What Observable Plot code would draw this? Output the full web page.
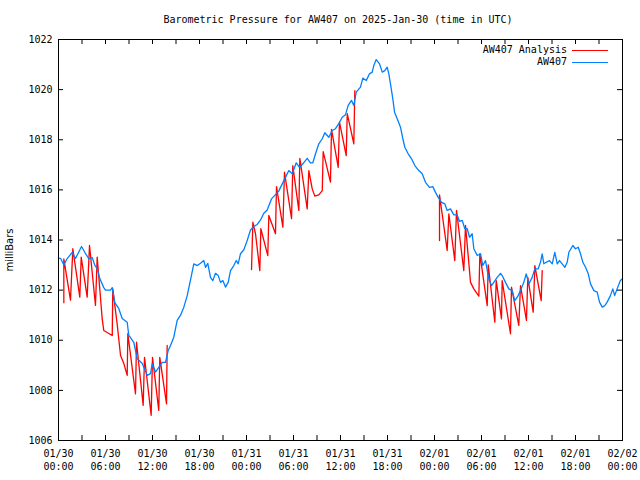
<!DOCTYPE html>
<html>
<head>
<meta charset="utf-8">
<script src="https://cdn.jsdelivr.net/npm/d3@7"></script>
<script src="https://cdn.jsdelivr.net/npm/@observablehq/plot@0.6"></script>
<style>
  html, body { margin: 0; padding: 0; background: #fff; }
  body { width: 640px; height: 480px; position: relative; overflow: hidden; font-family: "DejaVu Sans Mono", monospace; }
  #title { height: 30px; box-sizing: border-box; padding-top: 13px; padding-left: 36px; line-height: 14px; font-size: 10px; text-align: center; color: #000; white-space: nowrap; }
  #chart svg { display: block; }
  .lg-text { position: absolute; right: 73px; font-size: 10px; line-height: 12px; color: #000; white-space: nowrap; }
  .lg-line { position: absolute; left: 572px; width: 36px; height: 0; }
  #ylabel { position: absolute; left: -20px; top: 244px; width: 60px; line-height: 12px; text-align: center; font-family: "DejaVu Sans", sans-serif; font-size: 10px; color: #000; transform: rotate(-90deg); transform-origin: 30px 6px; white-space: nowrap; }
</style>
</head>
<body>
<div id="title">Barometric Pressure for AW407 on 2025-Jan-30 (time in UTC)</div>
<div id="chart"></div>
<div id="ylabel">milliBars</div>
<div class="lg-text" style="top:44px">AW407 Analysis</div>
<div class="lg-line" style="top:50px;border-top:1px solid #ff0000"></div>
<div class="lg-text" style="top:56px">AW407</div>
<div class="lg-line" style="top:62px;border-top:1px solid #0080ff"></div>
<script>
// Observed pressure (hours after 2025-01-30 00:00 UTC, millibars)
const blueHours = [
  0, 0.26, 0.68, 1.11, 1.75, 2.17, 2.94, 3.45, 3.87, 4.30,
  4.63, 4.94, 5.27, 5.78, 6.00, 6.64, 6.86, 7.19, 7.70, 8.13,
  8.77, 8.97, 9.61, 10.05, 10.69, 11.32, 11.75, 11.96, 12.38, 12.80,
  13.24, 13.66, 14.00, 14.30, 14.72, 15.15, 15.58, 16.00, 16.43, 16.98,
  17.27, 17.71, 18.13, 18.55, 18.77, 19.06, 19.40, 19.70, 20.04, 20.39,
  20.68, 20.98, 21.32, 21.66, 21.96, 22.38, 22.69, 22.94, 23.23, 23.66,
  24.09, 24.51, 24.93, 25.37, 25.79, 26.21, 26.64, 27.19, 27.61, 28.12,
  28.34, 28.98, 29.40, 29.84, 30.35, 30.77, 31.19, 31.75, 32.17, 32.47,
  32.81, 33.23, 33.67, 34.00, 34.51, 34.94, 35.36, 35.78, 36.22, 36.64,
  36.98, 37.41, 37.70, 38.01, 38.55, 38.85, 39.28, 39.70, 40.05, 40.25,
  40.56, 40.98, 41.33, 41.66, 41.96, 42.17, 42.38, 42.68, 42.90, 43.24,
  43.66, 43.96, 44.21, 44.64, 45.07, 45.49, 46.00, 46.43, 46.85, 47.36,
  47.78, 48.13, 48.47, 48.90, 49.32, 49.62, 50.04, 50.47, 50.90, 51.19,
  51.54, 51.87, 52.18, 52.47, 52.81, 53.02, 53.45, 53.88, 54.17, 54.51,
  54.93, 55.28, 55.57, 56.00, 56.43, 56.64, 57.06, 57.49, 57.92, 58.25,
  58.68, 58.98, 59.40, 59.71, 60.04, 60.47, 60.81, 61.24, 61.53, 61.75,
  61.96, 62.26, 62.68, 63.03, 63.36, 63.67, 63.96, 64.30, 64.64, 64.94,
  65.15, 65.66, 66.00, 66.35, 66.64, 66.94, 67.28, 67.63, 67.92, 68.35,
  68.77, 69.07, 69.41, 69.74, 70.04, 70.46, 70.76, 71.00, 71.31, 71.73, 72.00
];
const blueMbar = [
  1013.27, 1013.27, 1013.0, 1013.26, 1013.5, 1013.26, 1013.74, 1013.46, 1013.26, 1013.3,
  1013.0, 1012.86, 1012.46, 1012.1, 1012.0, 1012.0, 1012.1, 1011.5, 1011.26, 1010.87,
  1010.72, 1010.2, 1009.92, 1009.27, 1009.07, 1008.6, 1008.67, 1009.07, 1008.73, 1008.92,
  1009.12, 1009.12, 1009.59, 1009.79, 1010.12, 1010.79, 1011.0, 1011.32, 1011.78, 1012.6,
  1013.05, 1012.98, 1013.07, 1013.18, 1012.91, 1013.07, 1012.51, 1012.38, 1012.67, 1012.58,
  1012.31, 1012.38, 1012.12, 1012.31, 1012.78, 1012.98, 1013.18, 1013.05, 1013.45, 1013.61,
  1013.98, 1014.4, 1014.54, 1014.62, 1014.8, 1015.07, 1015.2, 1015.64, 1015.78, 1015.95,
  1016.1, 1016.5, 1016.77, 1016.64, 1017.08, 1016.9, 1017.04, 1017.26, 1017.08, 1017.08,
  1017.44, 1017.84, 1018.04, 1018.28, 1018.1, 1018.37, 1018.44, 1018.64, 1018.9, 1019.0,
  1019.37, 1019.57, 1019.37, 1019.9, 1020.1, 1020.46, 1020.36, 1020.63, 1020.7, 1020.96,
  1021.2, 1021.03, 1020.7, 1020.76, 1020.9, 1020.63, 1020.23, 1019.63, 1019.1, 1018.84,
  1018.5, 1018.04, 1017.7, 1017.44, 1017.24, 1016.97, 1016.77, 1016.64, 1016.3, 1016.1,
  1016.13, 1015.9, 1015.7, 1015.5, 1015.44, 1015.18, 1015.24, 1015.0, 1015.0, 1014.74,
  1014.78, 1014.45, 1014.45, 1014.11, 1014.25, 1013.65, 1013.38, 1013.45, 1012.98, 1013.18,
  1012.45, 1012.18, 1012.31, 1012.51, 1012.67, 1012.58, 1012.31, 1012.05, 1011.98, 1011.58,
  1011.78, 1011.98, 1012.31, 1012.65, 1012.25, 1012.51, 1012.85, 1012.85, 1013.11, 1013.45,
  1013.05, 1013.11, 1013.18, 1013.05, 1013.51, 1013.05, 1013.18, 1013.05, 1012.91, 1013.11,
  1013.51, 1013.78, 1013.65, 1013.71, 1013.45, 1013.11, 1012.91, 1012.65, 1012.25, 1011.98,
  1011.92, 1011.52, 1011.32, 1011.38, 1011.52, 1011.78, 1012.05, 1011.78, 1012.05, 1012.38, 1012.45
];

// Analysis pressure (null = gap between analysis windows)
const redHours = [
  0.68, 0.68, 1.53, 1.83, 2.72, 2.90, 3.66, 3.96, 4.72,
  4.94, 5.58, 5.78, 6.86, 6.93, 7.49, 7.92, 8.34, 8.77,
  8.85, 9.83, 9.96, 10.81, 10.98, 11.83, 12.00, 12.80, 12.93, 13.79, 13.87,
  null,
  24.64, 24.81, 25.15, 25.70, 25.83, 26.72, 26.85, 27.70, 27.83, 28.64,
  28.85, 29.75, 29.91, 30.68, 30.81, 31.75, 31.96, 32.39, 32.72, 33.23, 33.67,
  33.79, 34.72, 34.85, 35.71, 35.87, 36.73, 36.86, 37.70, 37.83,
  null,
  48.64, 48.64, 49.62, 49.83, 50.59, 50.81, 51.74, 51.96, 52.60, 53.02, 53.66,
  53.79, 54.73, 54.86, 55.70, 55.88, 56.55, 56.64, 57.70, 57.83, 58.76,
  58.98, 59.74, 59.91, 60.60, 60.81, 61.62, 61.75
];
const redMbar = [
  1011.5, 1013.25, 1011.6, 1013.65, 1011.72, 1013.32, 1011.72, 1013.78, 1011.39,
  1013.32, 1010.85, 1010.39, 1010.19, 1012.05, 1010.65, 1009.39, 1009.07, 1008.6,
  1010.26, 1007.86, 1009.92, 1007.4, 1009.32, 1007.0, 1009.32, 1007.2, 1009.32, 1007.46, 1009.79,
  null,
  1012.82, 1014.71, 1014.25, 1012.78, 1014.45, 1013.38, 1014.98, 1014.25, 1016.13, 1014.51,
  1016.71, 1014.85, 1016.97, 1015.18, 1017.26, 1015.24, 1016.77, 1016.04, 1015.75, 1015.8, 1015.97,
  1017.53, 1016.31, 1018.41, 1016.9, 1018.7, 1017.37, 1019.04, 1017.84, 1019.96,
  null,
  1013.98, 1015.8, 1013.58, 1015.04, 1013.18, 1015.18, 1012.78, 1014.58, 1012.31, 1012.05, 1011.76,
  1013.45, 1011.38, 1013.01, 1010.72, 1012.38, 1010.85, 1012.38, 1010.26, 1012.12, 1010.59,
  1012.18, 1010.79, 1012.51, 1011.12, 1012.98, 1011.58, 1012.78
];

const yTicks = [1006, 1008, 1010, 1012, 1014, 1016, 1018, 1020, 1022];
const startTime = new Date(Date.UTC(2025, 0, 30, 0, 0));
const endTime = new Date(Date.UTC(2025, 1, 2, 0, 0));

const toDate = h => (h == null ? null : new Date(startTime.getTime() + h * 3600000));
const blue = blueHours.map((h, i) => ({t: toDate(h), p: blueMbar[i]}));
const red = redHours.map((h, i) => ({t: toDate(h), p: redMbar[i]}));

const endPlus = new Date(endTime.getTime() + 1);
const xTicks6 = d3.utcHour.every(6).range(startTime, endPlus);
const xTicks3 = d3.utcHour.every(3).range(startTime, endPlus);
const fmt = d3.utcFormat("%m/%d\n%H:%M");

const W = 640, H = 450, mL = 58, mR = 18, mT = 9, mB = 40;
const fw = W - mL - mR, fh = H - mT - mB, tk = 5;

const chart = Plot.plot({
  width: W, height: H,
  marginTop: mT, marginBottom: mB, marginLeft: mL, marginRight: mR,
  style: {fontFamily: "'DejaVu Sans Mono', monospace", fontSize: "10px", background: "white", color: "black", overflow: "visible"},
  x: {type: "utc", domain: [startTime, endTime]},
  y: {domain: [1006, 1022]},
  marks: [
    Plot.line(red, {x: "t", y: "p", stroke: "#ff0000", strokeWidth: 1.3}),
    Plot.line(blue, {x: "t", y: "p", stroke: "#0080ff", strokeWidth: 1.3}),
    Plot.tickY(yTicks, {y: d => d, insetRight: fw - tk, stroke: "black"}),
    Plot.tickY(yTicks, {y: d => d, insetLeft: fw - tk, stroke: "black"}),
    Plot.tickX(xTicks3, {x: d => d, insetTop: fh - tk, stroke: "black"}),
    Plot.tickX(xTicks3, {x: d => d, insetBottom: fh - tk, stroke: "black"}),
    Plot.frame({stroke: "black"}),
    Plot.axisX(xTicks6, {tickSize: 0, tickPadding: 8, tickFormat: fmt, label: null, lineHeight: 1.25}),
    Plot.axisY(yTicks, {tickSize: 0, tickPadding: 6, tickFormat: d => String(d), label: null})
  ]
});
document.getElementById("chart").appendChild(chart);
</script>
</body>
</html>
